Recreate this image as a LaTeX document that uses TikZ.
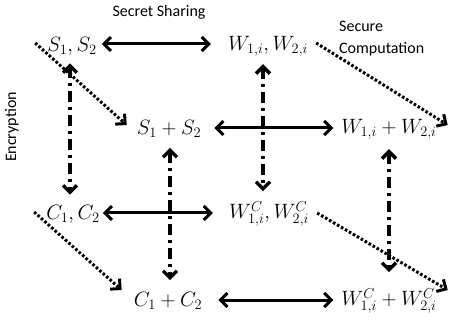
\documentclass[tikz,border=0pt]{standalone}
\usepackage{fontspec}
\setmainfont{Carlito}
\usetikzlibrary{arrows.meta,calc}
\begin{document}
\begin{tikzpicture}[x=1pt,y=-1pt,
  term/.style={inner sep=0pt,font=\fontsize{20}{22}\selectfont},
  caption/.style={inner sep=0pt,font=\fontsize{16}{22}\selectfont},
  barb/.tip={Straight Barb[length=7pt,width=14pt]},
  link/.style={line width=3pt,barb-barb},
  encr/.style={line width=3.4pt,barb-barb,dash pattern=on 11pt off 5pt on 3pt off 5pt},
  comp/.style={line width=3pt,-barb,dash pattern=on 2.6pt off 2pt},
]
\useasboundingbox[fill=white] (0,0) rectangle (457,320);

% values and their sums
\node[term] (s12)  at (72,46)   {$S_1, S_2$};
\node[term] (w12)  at (268,46)  {$W_{1,i}, W_{2,i}$};
\node[term] (ss)   at (169,129) {$S_1 + S_2$};
\node[term] (ws)   at (389,129) {$W_{1,i} + W_{2,i}$};
\node[term] (c12)  at (73,214)  {$C_1, C_2$};
\node[term] (wc12) at (269,214) {$W^C_{1,i}, W^C_{2,i}$};
\node[term] (cs)   at (168,301) {$C_1 + C_2$};
\node[term] (wcs)  at (389,301) {$W^C_{1,i} + W^C_{2,i}$};

% captions
\node[caption] (lss) at (159,12) {Secret Sharing};
\node[caption,align=left,anchor=north west] (lsc) at (339,21) {Secure\\Computation};
\node[caption,rotate=90] (lenc) at (12,127) {Encryption};

% secret sharing
\draw[link] ($(s12.east)+(5,-2)$) -- ($(w12.west)+(-17,-2)$);
\draw[link] ($(ss.east)+(13,-1)$) -- ($(ws.west)+(-8,-1)$);
\draw[link] ($(c12.east)+(3,-1)$) -- ($(wc12.west)+(-16,-1)$);
\draw[link] ($(cs.east)+(16,-1)$) -- ($(wcs.west)+(-8,-1)$);

% encryption
\draw[encr] ($(s12.south)+(-2,8)$) -- ($(c12.north)+(-3,-10)$);
\draw[encr] ($(w12.south)+(-5,8)$) -- ($(wc12.north)+(-6,-10)$);
\draw[encr] ($(ss.south)+(1,10)$) -- ($(cs.north)+(2,-12)$);
\draw[encr] ($(ws.south)+(0,10)$) -- ($(wcs.north)+(0,-16)$);

% secure computation
\draw[comp] ($(s12.west)+(-12,-3)$) -- ($(ss.west)+(-10,-4)$);
\draw[comp] ($(w12.east)+(8,-3)$) -- ($(ws.east)+(11,-4)$);
\draw[comp] ($(c12.west)+(-12,-2)$) -- ($(cs.west)+(-12,-11)$);
\draw[comp] ($(wc12.east)+(8,-1)$) -- ($(wcs.east)+(11,-11)$);
\end{tikzpicture}
\end{document}
